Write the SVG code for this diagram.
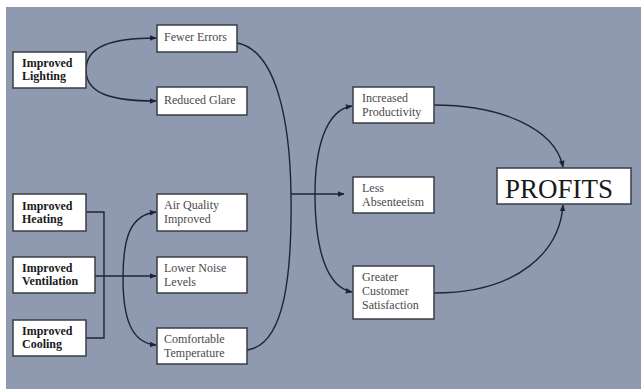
<svg xmlns="http://www.w3.org/2000/svg" width="641" height="389" viewBox="0 0 641 389">
<defs>
<marker id="ah" viewBox="0 0 10 10" refX="9" refY="5" markerWidth="7" markerHeight="7" markerUnits="userSpaceOnUse" orient="auto">
<path d="M0,1 L10,5 L0,9 Z" fill="#1e2433"/>
</marker>
<style>
.box{fill:#fff;stroke:#3a3d45;stroke-width:1.5}
.b{font-family:"Liberation Serif",serif;font-size:12px;font-weight:bold;fill:#1a1a1a}
.t{font-family:"Liberation Serif",serif;font-size:12px;fill:#4a4a4a}
.c{fill:none;stroke:#1e2433;stroke-width:1.4}
.a{marker-end:url(#ah)}
</style>
</defs>
<rect x="0" y="0" width="641" height="389" fill="#ffffff"/>
<rect x="6" y="7" width="635" height="382" fill="#8f9ab0"/>
<g id="connectors">
<path class="c a" d="M86,70 C86,46 112,38 156,38"/>
<path class="c a" d="M86,70 C86,94 112,101 156,101"/>
<path class="c" d="M86,212 H104 V338 H86"/>
<path class="c a" d="M95,276 H156"/>
<path class="c a" d="M123,278 C123,238 130,215 156,212"/>
<path class="c a" d="M123,278 C123,320 132,343 156,345"/>
<path class="c" d="M237,43 C276,50 290,120 291,194 C292,270 286,345 247,350"/>
<path class="c a" d="M291,194 H344"/>
<path class="c a" d="M315,194 C315,150 325,110 352,106"/>
<path class="c a" d="M315,194 C315,245 325,287 352,292"/>
<path class="c a" d="M434,105 C500,105 555,128 563,167"/>
<path class="c a" d="M434,293 C520,293 560,250 563,205"/>
</g>
<g id="improved-lighting"><rect class="box" x="13" y="52" width="73" height="36"/><text class="b" x="22" y="67">Improved</text><text class="b" x="22" y="80">Lighting</text></g>
<g id="improved-heating"><rect class="box" x="13" y="194" width="73" height="37"/><text class="b" x="22" y="210">Improved</text><text class="b" x="22" y="223">Heating</text></g>
<g id="improved-ventilation"><rect class="box" x="13" y="257" width="82" height="36"/><text class="b" x="22" y="272">Improved</text><text class="b" x="22" y="285">Ventilation</text></g>
<g id="improved-cooling"><rect class="box" x="13" y="320" width="73" height="36"/><text class="b" x="22" y="335">Improved</text><text class="b" x="22" y="348">Cooling</text></g>
<g id="fewer-errors"><rect class="box" x="157" y="25" width="80" height="27"/><text class="t" x="164" y="41">Fewer Errors</text></g>
<g id="reduced-glare"><rect class="box" x="157" y="87" width="90" height="28"/><text class="t" x="164" y="104">Reduced Glare</text></g>
<g id="air-quality"><rect class="box" x="157" y="194" width="90" height="37"/><text class="t" x="164" y="209">Air Quality</text><text class="t" x="164" y="223">Improved</text></g>
<g id="lower-noise"><rect class="box" x="157" y="257" width="90" height="36"/><text class="t" x="164" y="272">Lower Noise</text><text class="t" x="164" y="286">Levels</text></g>
<g id="comfortable-temperature"><rect class="box" x="157" y="328" width="90" height="36"/><text class="t" x="164" y="343">Comfortable</text><text class="t" x="164" y="357">Temperature</text></g>
<g id="increased-productivity"><rect class="box" x="353" y="87" width="81" height="36"/><text class="t" x="362" y="102">Increased</text><text class="t" x="362" y="116">Productivity</text></g>
<g id="less-absenteeism"><rect class="box" x="353" y="177" width="81" height="36"/><text class="t" x="362" y="192">Less</text><text class="t" x="362" y="206">Absenteeism</text></g>
<g id="greater-customer-satisfaction"><rect class="box" x="353" y="266" width="81" height="53"/><text class="t" x="362" y="281">Greater</text><text class="t" x="362" y="295">Customer</text><text class="t" x="362" y="309">Satisfaction</text></g>
<g id="profits"><rect class="box" x="497" y="168" width="134" height="36"/><text x="505" y="198" style="font-family:'Liberation Serif',serif;font-size:27px;fill:#1a1a1a">PROFITS</text></g>
</svg>
